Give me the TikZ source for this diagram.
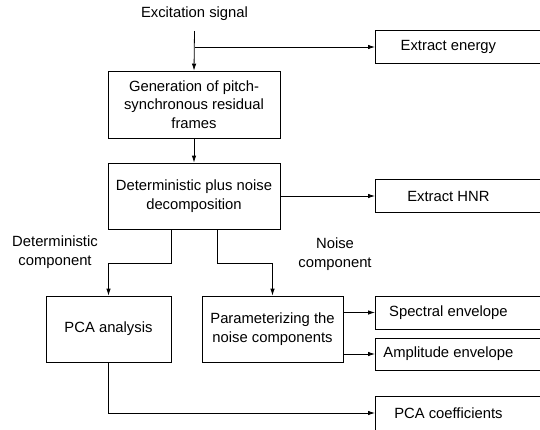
\documentclass[tikz,border=0pt]{standalone}
\usepackage{fontspec}
\setmainfont{Liberation Sans}
\usetikzlibrary{arrows.meta}
\tikzset{
  blk/.style={draw, align=center, inner sep=0pt},
  outbox/.style={draw, anchor=west, inner sep=0pt, minimum height=33pt},
  lbl/.style={align=center, inner sep=0pt},
}
\newcommand{\outtext}[1]{\makebox[167pt][l]{\makebox[146pt]{#1}}}
\begin{document}
\begin{tikzpicture}[x=1pt,y=-1pt,>={Latex[length=7pt,width=4.5pt]},line width=0.8pt,
  every node/.append style={font=\fontsize{14.8}{18.5}\selectfont}]
\useasboundingbox (0,0) rectangle (540,429);
\node[lbl] (exc) at (194.5,14) {Excitation signal};
\coordinate (top) at (194.5,31); \coordinate (split) at (194.5,47);
\node[blk, minimum width=172pt, minimum height=67pt] (gen) at (194,104.5) {Generation of pitch-\\synchronous residual\\frames};
\node[blk, minimum width=172pt, minimum height=66pt] (decomp) at (194,196) {Deterministic plus noise\\decomposition};
\node[blk, minimum width=125pt, minimum height=66pt] (pca) at (108.5,329) {PCA analysis};
\node[blk, minimum width=141pt, minimum height=66pt] (param) at (272.5,329) {Parameterizing the\\noise components};
\node[outbox] (energy) at (375,46.5) {\outtext{Extract energy}};
\node[outbox] (hnr) at (375,196) {\outtext{Extract HNR}};
\node[outbox] (spec) at (375,312.5) {\outtext{Spectral envelope}};
\node[outbox, minimum height=32pt] (ampl) at (375,354) {\outtext{Amplitude envelope}};
\node[outbox, minimum height=34pt] (coef) at (375,413) {\outtext{PCA coefficients}};
\node[lbl] (detlbl) at (55,252) {Deterministic\\component};
\node[lbl] (noiselbl) at (335,254) {Noise\\component};
% signal path
\draw[->] (top) -- (gen.north);
\draw[->] (split) -- (split -| energy.west);
\draw[->] (gen.south) -- (decomp.north);
\draw[->] (decomp.east) -- (hnr.west);
\draw[->] ([xshift=-23pt]decomp.south) -- ++(0,34) -| (pca.north);
\draw[->] ([xshift=23pt]decomp.south) -- ++(0,34) -| (param.north);
\draw[->] (param.east |- spec.west) -- (spec.west);
\draw[->] (param.east |- ampl.west) -- (ampl.west);
\draw[->] (pca.south) |- (coef.west);
\end{tikzpicture}
\end{document}
